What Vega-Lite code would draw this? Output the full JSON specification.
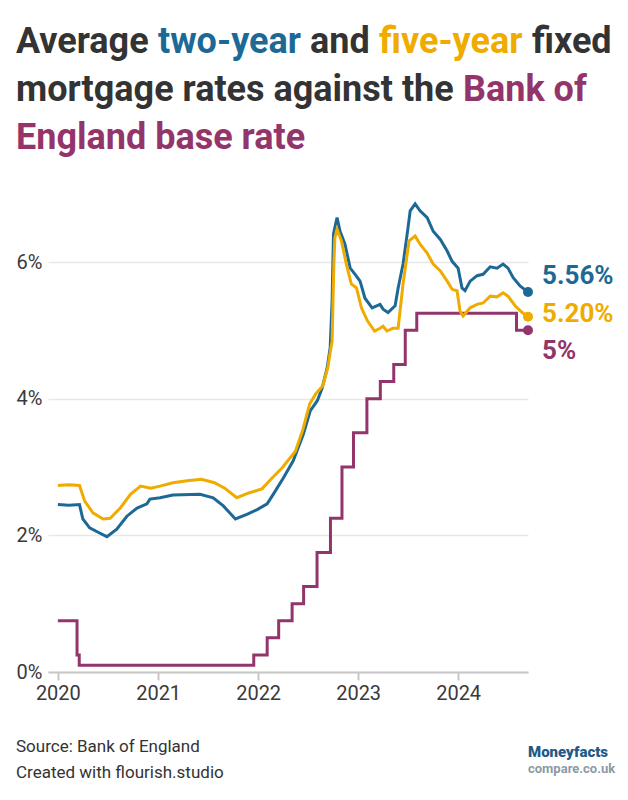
{
  "$schema": "https://vega.github.io/schema/vega-lite/v6.json",
  "background": "white",
  "padding": {"left": 16, "top": 24, "right": 0, "bottom": 0},
  "config": {
    "view": {"stroke": null},
    "font": "Roboto",
    "title": {"font": "Roboto", "fontSize": 36, "fontWeight": 700, "anchor": "start", "frame": "group", "offset": 0, "color": "#333333"},
    "axis": {"labelFont": "Roboto", "titleFont": "Roboto"}
  },
  "datasets": {
    "rates": [
      {"series": "Base rate", "date": "2020-01-01", "rate": 0.75},
      {"series": "Base rate", "date": "2020-03-11", "rate": 0.25},
      {"series": "Base rate", "date": "2020-03-19", "rate": 0.10},
      {"series": "Base rate", "date": "2021-12-16", "rate": 0.25},
      {"series": "Base rate", "date": "2022-02-03", "rate": 0.50},
      {"series": "Base rate", "date": "2022-03-17", "rate": 0.75},
      {"series": "Base rate", "date": "2022-05-05", "rate": 1.00},
      {"series": "Base rate", "date": "2022-06-16", "rate": 1.25},
      {"series": "Base rate", "date": "2022-08-04", "rate": 1.75},
      {"series": "Base rate", "date": "2022-09-22", "rate": 2.25},
      {"series": "Base rate", "date": "2022-11-03", "rate": 3.00},
      {"series": "Base rate", "date": "2022-12-15", "rate": 3.50},
      {"series": "Base rate", "date": "2023-02-02", "rate": 4.00},
      {"series": "Base rate", "date": "2023-03-23", "rate": 4.25},
      {"series": "Base rate", "date": "2023-05-11", "rate": 4.50},
      {"series": "Base rate", "date": "2023-06-22", "rate": 5.00},
      {"series": "Base rate", "date": "2023-08-03", "rate": 5.25},
      {"series": "Base rate", "date": "2024-08-01", "rate": 5.00},
      {"series": "Base rate", "date": "2024-09-12", "rate": 5.00},

      {"series": "Two-year", "date": "2020-01-01", "rate": 2.45},
      {"series": "Two-year", "date": "2020-02-10", "rate": 2.44},
      {"series": "Two-year", "date": "2020-03-20", "rate": 2.45},
      {"series": "Two-year", "date": "2020-04-01", "rate": 2.24},
      {"series": "Two-year", "date": "2020-04-26", "rate": 2.11},
      {"series": "Two-year", "date": "2020-06-03", "rate": 2.03},
      {"series": "Two-year", "date": "2020-06-28", "rate": 1.98},
      {"series": "Two-year", "date": "2020-08-03", "rate": 2.09},
      {"series": "Two-year", "date": "2020-09-09", "rate": 2.28},
      {"series": "Two-year", "date": "2020-10-16", "rate": 2.40},
      {"series": "Two-year", "date": "2020-11-21", "rate": 2.46},
      {"series": "Two-year", "date": "2020-12-02", "rate": 2.53},
      {"series": "Two-year", "date": "2021-01-08", "rate": 2.55},
      {"series": "Two-year", "date": "2021-02-24", "rate": 2.59},
      {"series": "Two-year", "date": "2021-06-03", "rate": 2.60},
      {"series": "Two-year", "date": "2021-07-21", "rate": 2.55},
      {"series": "Two-year", "date": "2021-08-27", "rate": 2.43},
      {"series": "Two-year", "date": "2021-10-10", "rate": 2.24},
      {"series": "Two-year", "date": "2021-11-23", "rate": 2.31},
      {"series": "Two-year", "date": "2021-12-30", "rate": 2.38},
      {"series": "Two-year", "date": "2022-02-03", "rate": 2.46},
      {"series": "Two-year", "date": "2022-02-25", "rate": 2.60},
      {"series": "Two-year", "date": "2022-04-03", "rate": 2.84},
      {"series": "Two-year", "date": "2022-05-09", "rate": 3.09},
      {"series": "Two-year", "date": "2022-06-15", "rate": 3.48},
      {"series": "Two-year", "date": "2022-07-10", "rate": 3.82},
      {"series": "Two-year", "date": "2022-08-05", "rate": 3.97},
      {"series": "Two-year", "date": "2022-08-23", "rate": 4.16},
      {"series": "Two-year", "date": "2022-09-10", "rate": 4.45},
      {"series": "Two-year", "date": "2022-09-21", "rate": 4.75},
      {"series": "Two-year", "date": "2022-09-28", "rate": 5.43},
      {"series": "Two-year", "date": "2022-10-03", "rate": 6.41},
      {"series": "Two-year", "date": "2022-10-16", "rate": 6.65},
      {"series": "Two-year", "date": "2022-10-27", "rate": 6.45},
      {"series": "Two-year", "date": "2022-11-14", "rate": 6.26},
      {"series": "Two-year", "date": "2022-12-03", "rate": 5.91},
      {"series": "Two-year", "date": "2022-12-21", "rate": 5.82},
      {"series": "Two-year", "date": "2023-01-08", "rate": 5.72},
      {"series": "Two-year", "date": "2023-01-26", "rate": 5.47},
      {"series": "Two-year", "date": "2023-02-21", "rate": 5.33},
      {"series": "Two-year", "date": "2023-03-22", "rate": 5.38},
      {"series": "Two-year", "date": "2023-04-02", "rate": 5.31},
      {"series": "Two-year", "date": "2023-04-20", "rate": 5.26},
      {"series": "Two-year", "date": "2023-05-16", "rate": 5.36},
      {"series": "Two-year", "date": "2023-05-27", "rate": 5.62},
      {"series": "Two-year", "date": "2023-06-14", "rate": 5.97},
      {"series": "Two-year", "date": "2023-07-02", "rate": 6.50},
      {"series": "Two-year", "date": "2023-07-10", "rate": 6.75},
      {"series": "Two-year", "date": "2023-07-28", "rate": 6.85},
      {"series": "Two-year", "date": "2023-08-15", "rate": 6.75},
      {"series": "Two-year", "date": "2023-09-10", "rate": 6.65},
      {"series": "Two-year", "date": "2023-10-02", "rate": 6.45},
      {"series": "Two-year", "date": "2023-10-28", "rate": 6.33},
      {"series": "Two-year", "date": "2023-11-22", "rate": 6.16},
      {"series": "Two-year", "date": "2023-12-10", "rate": 6.01},
      {"series": "Two-year", "date": "2024-01-01", "rate": 5.91},
      {"series": "Two-year", "date": "2024-01-15", "rate": 5.62},
      {"series": "Two-year", "date": "2024-01-26", "rate": 5.58},
      {"series": "Two-year", "date": "2024-02-14", "rate": 5.72},
      {"series": "Two-year", "date": "2024-03-10", "rate": 5.80},
      {"series": "Two-year", "date": "2024-04-01", "rate": 5.82},
      {"series": "Two-year", "date": "2024-04-27", "rate": 5.93},
      {"series": "Two-year", "date": "2024-05-22", "rate": 5.91},
      {"series": "Two-year", "date": "2024-06-13", "rate": 5.97},
      {"series": "Two-year", "date": "2024-07-01", "rate": 5.91},
      {"series": "Two-year", "date": "2024-07-20", "rate": 5.77},
      {"series": "Two-year", "date": "2024-08-14", "rate": 5.65},
      {"series": "Two-year", "date": "2024-09-12", "rate": 5.56},

      {"series": "Five-year", "date": "2020-01-01", "rate": 2.73},
      {"series": "Five-year", "date": "2020-02-10", "rate": 2.74},
      {"series": "Five-year", "date": "2020-03-20", "rate": 2.73},
      {"series": "Five-year", "date": "2020-04-08", "rate": 2.50},
      {"series": "Five-year", "date": "2020-05-08", "rate": 2.33},
      {"series": "Five-year", "date": "2020-06-14", "rate": 2.24},
      {"series": "Five-year", "date": "2020-07-10", "rate": 2.25},
      {"series": "Five-year", "date": "2020-08-16", "rate": 2.40},
      {"series": "Five-year", "date": "2020-09-22", "rate": 2.60},
      {"series": "Five-year", "date": "2020-10-29", "rate": 2.72},
      {"series": "Five-year", "date": "2020-12-05", "rate": 2.69},
      {"series": "Five-year", "date": "2021-01-08", "rate": 2.72},
      {"series": "Five-year", "date": "2021-02-24", "rate": 2.77},
      {"series": "Five-year", "date": "2021-04-17", "rate": 2.80},
      {"series": "Five-year", "date": "2021-06-08", "rate": 2.82},
      {"series": "Five-year", "date": "2021-07-26", "rate": 2.77},
      {"series": "Five-year", "date": "2021-09-01", "rate": 2.69},
      {"series": "Five-year", "date": "2021-10-15", "rate": 2.55},
      {"series": "Five-year", "date": "2021-11-28", "rate": 2.62},
      {"series": "Five-year", "date": "2022-01-15", "rate": 2.68},
      {"series": "Five-year", "date": "2022-02-21", "rate": 2.84},
      {"series": "Five-year", "date": "2022-03-30", "rate": 2.99},
      {"series": "Five-year", "date": "2022-05-17", "rate": 3.23},
      {"series": "Five-year", "date": "2022-06-12", "rate": 3.53},
      {"series": "Five-year", "date": "2022-07-08", "rate": 3.92},
      {"series": "Five-year", "date": "2022-07-30", "rate": 4.07},
      {"series": "Five-year", "date": "2022-08-25", "rate": 4.19},
      {"series": "Five-year", "date": "2022-09-12", "rate": 4.45},
      {"series": "Five-year", "date": "2022-09-24", "rate": 4.75},
      {"series": "Five-year", "date": "2022-09-28", "rate": 4.84},
      {"series": "Five-year", "date": "2022-10-04", "rate": 5.91},
      {"series": "Five-year", "date": "2022-10-08", "rate": 6.35},
      {"series": "Five-year", "date": "2022-10-16", "rate": 6.48},
      {"series": "Five-year", "date": "2022-11-01", "rate": 6.31},
      {"series": "Five-year", "date": "2022-11-19", "rate": 5.97},
      {"series": "Five-year", "date": "2022-12-07", "rate": 5.68},
      {"series": "Five-year", "date": "2022-12-26", "rate": 5.62},
      {"series": "Five-year", "date": "2023-01-13", "rate": 5.33},
      {"series": "Five-year", "date": "2023-02-04", "rate": 5.14},
      {"series": "Five-year", "date": "2023-03-02", "rate": 4.99},
      {"series": "Five-year", "date": "2023-03-22", "rate": 5.03},
      {"series": "Five-year", "date": "2023-04-02", "rate": 5.06},
      {"series": "Five-year", "date": "2023-04-16", "rate": 4.99},
      {"series": "Five-year", "date": "2023-05-08", "rate": 5.03},
      {"series": "Five-year", "date": "2023-05-27", "rate": 5.03},
      {"series": "Five-year", "date": "2023-06-14", "rate": 5.68},
      {"series": "Five-year", "date": "2023-07-06", "rate": 6.31},
      {"series": "Five-year", "date": "2023-07-28", "rate": 6.38},
      {"series": "Five-year", "date": "2023-08-15", "rate": 6.26},
      {"series": "Five-year", "date": "2023-09-10", "rate": 6.13},
      {"series": "Five-year", "date": "2023-10-02", "rate": 5.97},
      {"series": "Five-year", "date": "2023-10-28", "rate": 5.87},
      {"series": "Five-year", "date": "2023-11-22", "rate": 5.72},
      {"series": "Five-year", "date": "2023-12-10", "rate": 5.60},
      {"series": "Five-year", "date": "2023-12-28", "rate": 5.58},
      {"series": "Five-year", "date": "2024-01-08", "rate": 5.28},
      {"series": "Five-year", "date": "2024-01-19", "rate": 5.21},
      {"series": "Five-year", "date": "2024-02-14", "rate": 5.33},
      {"series": "Five-year", "date": "2024-03-10", "rate": 5.38},
      {"series": "Five-year", "date": "2024-04-01", "rate": 5.40},
      {"series": "Five-year", "date": "2024-04-27", "rate": 5.50},
      {"series": "Five-year", "date": "2024-05-22", "rate": 5.49},
      {"series": "Five-year", "date": "2024-06-13", "rate": 5.55},
      {"series": "Five-year", "date": "2024-07-01", "rate": 5.50},
      {"series": "Five-year", "date": "2024-07-27", "rate": 5.36},
      {"series": "Five-year", "date": "2024-08-22", "rate": 5.26},
      {"series": "Five-year", "date": "2024-09-12", "rate": 5.20}
    ]
  },
  "spacing": 26,
  "vconcat": [
    {
      "spacing": 6,
      "vconcat": [
        {
          "spacing": 9,
          "hconcat": [
            {"width": 1, "height": 1, "data": {"values": []}, "mark": {"type": "point", "opacity": 0}, "title": {"text": "Average", "color": "#333333", "dx": -32}},
            {"width": 1, "height": 1, "data": {"values": []}, "mark": {"type": "point", "opacity": 0}, "title": {"text": "two-year", "color": "#1d6996"}},
            {"width": 1, "height": 1, "data": {"values": []}, "mark": {"type": "point", "opacity": 0}, "title": {"text": "and", "color": "#333333"}},
            {"width": 1, "height": 1, "data": {"values": []}, "mark": {"type": "point", "opacity": 0}, "title": {"text": "five-year", "color": "#f0ab00"}},
            {"width": 1, "height": 1, "data": {"values": []}, "mark": {"type": "point", "opacity": 0}, "title": {"text": "fixed", "color": "#333333"}}
          ]
        },
        {
          "spacing": 9,
          "hconcat": [
            {"width": 1, "height": 1, "data": {"values": []}, "mark": {"type": "point", "opacity": 0}, "title": {"text": "mortgage rates against the", "color": "#333333", "dx": -32}},
            {"width": 1, "height": 1, "data": {"values": []}, "mark": {"type": "point", "opacity": 0}, "title": {"text": "Bank of", "color": "#93346b"}}
          ]
        },
        {"width": 1, "height": 1, "data": {"values": []}, "mark": {"type": "point", "opacity": 0}, "title": {"text": "England base rate", "color": "#93346b", "dx": -32}}
      ]
    },
    {
      "spacing": 35,
      "vconcat": [
        {
          "width": 480,
          "height": 484,
          "data": {"name": "rates"},
          "encoding": {
            "x": {
              "field": "date", "type": "temporal",
              "scale": {"type": "utc", "domain": [{"year": 2019, "month": 11, "date": 26, "utc": true}, {"year": 2024, "month": 9, "date": 12, "utc": true}]},
              "axis": {
                "title": null, "grid": false,
                "values": [{"year": 2020, "month": 1, "date": 1, "utc": true}, {"year": 2021, "month": 1, "date": 1, "utc": true}, {"year": 2022, "month": 1, "date": 1, "utc": true}, {"year": 2023, "month": 1, "date": 1, "utc": true}, {"year": 2024, "month": 1, "date": 1, "utc": true}],
                "labelExpr": "utcFormat(datum.value, '%Y')",
                "domainColor": "#c8c8c8", "domainWidth": 2,
                "tickColor": "#c8c8c8", "tickWidth": 2, "tickSize": 8,
                "labelFontSize": 20, "labelColor": "#3a3a3a", "labelPadding": 3
              }
            },
            "y": {
              "field": "rate", "type": "quantitative",
              "scale": {"domain": [0, 7.083], "nice": false, "zero": true},
              "axis": {
                "title": null, "values": [0, 2, 4, 6],
                "labelExpr": "datum.value + '%'",
                "domain": false, "ticks": false,
                "gridColor": "#e8e8e8", "gridWidth": 1.5,
                "labelFontSize": 20, "labelColor": "#3a3a3a", "labelPadding": 6
              }
            }
          },
          "layer": [
            {"transform": [{"filter": "datum.series === 'Base rate'"}], "mark": {"type": "line", "interpolate": "step-after", "color": "#93346b", "strokeWidth": 3}},
            {"transform": [{"filter": "datum.series === 'Two-year'"}], "mark": {"type": "line", "color": "#1d6996", "strokeWidth": 3}},
            {"transform": [{"filter": "datum.series === 'Five-year'"}], "mark": {"type": "line", "color": "#f0ab00", "strokeWidth": 3}},
            {
              "transform": [{"filter": "+toDate(datum.date) === +utc(2024, 8, 12)"}],
              "mark": {"type": "circle", "size": 100, "opacity": 1},
              "encoding": {"color": {"field": "series", "type": "nominal", "scale": {"domain": ["Two-year", "Five-year", "Base rate"], "range": ["#1d6996", "#f0ab00", "#93346b"]}, "legend": null}}
            },
            {
              "transform": [{"filter": "datum.series === 'Two-year' && +toDate(datum.date) === +utc(2024, 8, 12)"}, {"calculate": "format(datum.rate, '.2f') + '%'", "as": "label"}],
              "mark": {"type": "text", "align": "left", "baseline": "middle", "dx": 14, "dy": -16, "fontSize": 26, "fontWeight": 700, "color": "#1d6996"},
              "encoding": {"text": {"field": "label"}}
            },
            {
              "transform": [{"filter": "datum.series === 'Five-year' && +toDate(datum.date) === +utc(2024, 8, 12)"}, {"calculate": "format(datum.rate, '.2f') + '%'", "as": "label"}],
              "mark": {"type": "text", "align": "left", "baseline": "middle", "dx": 14, "dy": -3, "fontSize": 26, "fontWeight": 700, "color": "#f0ab00"},
              "encoding": {"text": {"field": "label"}}
            },
            {
              "transform": [{"filter": "datum.series === 'Base rate' && +toDate(datum.date) === +utc(2024, 8, 12)"}, {"calculate": "format(datum.rate, '.0f') + '%'", "as": "label"}],
              "mark": {"type": "text", "align": "left", "baseline": "middle", "dx": 14, "dy": 21, "fontSize": 26, "fontWeight": 700, "color": "#93346b"},
              "encoding": {"text": {"field": "label"}}
            }
          ]
        },
        {
          "spacing": 304,
          "hconcat": [
            {"width": 1, "height": 1, "data": {"values": []}, "mark": {"type": "point", "opacity": 0}, "title": {"text": ["Source: Bank of England", "Created with flourish.studio"], "fontSize": 17, "fontWeight": 400, "lineHeight": 26, "color": "#333333", "dx": -32}},
            {"width": 1, "height": 1, "data": {"values": []}, "mark": {"type": "point", "opacity": 0}, "title": {"text": "Moneyfacts", "fontSize": 15, "fontWeight": 900, "color": "#1f5a8a", "subtitle": "compare.co.uk", "subtitleFontSize": 13, "subtitleFontWeight": 700, "subtitleColor": "#8c9aa6", "subtitlePadding": 3, "offset": 10}}
          ]
        }
      ]
    }
  ]
}
